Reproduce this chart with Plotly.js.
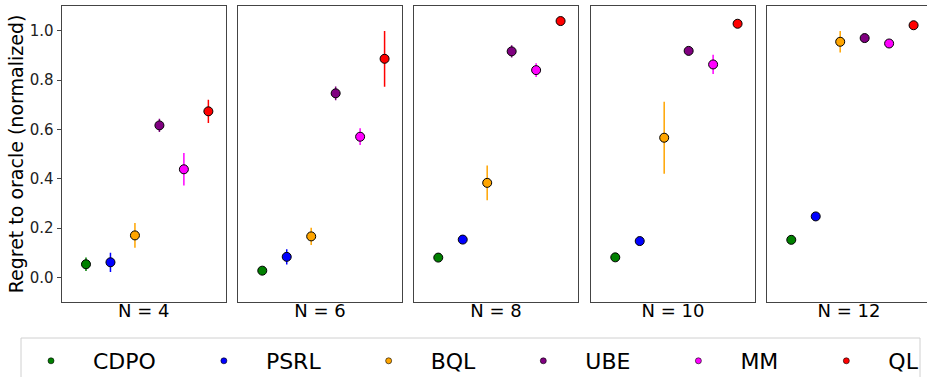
<!DOCTYPE html>
<html>
<head>
<meta charset="utf-8">
<script src="https://cdn.plot.ly/plotly-3.0.1.min.js"></script>
<style>
html,body{margin:0;padding:0;overflow:hidden;background:#fff;}
#chart{width:931px;height:377px;}
</style>
</head>
<body>
<div id="chart"></div>
<script>
const methods = ['CDPO', 'PSRL', 'BQL', 'UBE', 'MM', 'QL'];
const colors = ['#008000', '#0000ff', '#ffa500', '#800080', '#ff00ff', '#ff0000'];
const panelLabels = ['N = 4', 'N = 6', 'N = 8', 'N = 10', 'N = 12'];
const yTickVals = [0.0, 0.2, 0.4, 0.6, 0.8, 1.0];

const cdpoMean = [0.053, 0.027, 0.080, 0.081, 0.152];
const cdpoErr  = [0.027, 0.012, 0.012, 0.010, 0.012];
const psrlMean = [0.061, 0.083, 0.153, 0.147, 0.247];
const psrlErr  = [0.039, 0.031, 0.012, 0.012, 0.012];
const bqlMean  = [0.170, 0.166, 0.383, 0.566, 0.955];
const bqlErr   = [0.050, 0.035, 0.070, 0.146, 0.044];
const ubeMean  = [0.616, 0.746, 0.916, 0.918, 0.970];
const ubeErr   = [0.027, 0.028, 0.025, 0.012, 0.012];
const mmMean   = [0.438, 0.570, 0.840, 0.863, 0.948];
const mmErr    = [0.066, 0.034, 0.028, 0.039, 0.012];
const qlMean   = [0.673, 0.886, 1.039, 1.028, 1.022];
const qlErr    = [0.047, 0.113, 0.010, 0.010, 0.010];

const means = [cdpoMean, psrlMean, bqlMean, ubeMean, mmMean, qlMean];
const errs = [cdpoErr, psrlErr, bqlErr, ubeErr, mmErr, qlErr];

const W = 931, H = 377;
const font = 'DejaVu Sans, sans-serif';
const panelPx = [[62, 225.5], [238.3, 401.7], [414.3, 577.7], [591.3, 754.7], [767.3, 930.7]];
const yDom = [(H - 302) / H, (H - 6) / H];

const traces = [];
panelLabels.forEach((lab, p) => {
  const sfx = p === 0 ? '' : String(p + 1);
  methods.forEach((m, i) => {
    traces.push({
      type: 'scatter', mode: 'markers',
      x: [m], y: [means[i][p]],
      xaxis: 'x' + sfx, yaxis: 'y' + sfx,
      marker: {color: colors[i], size: 9, line: {color: '#000', width: 1}},
      error_y: {type: 'data', array: [errs[i][p]], visible: true, color: colors[i], thickness: 1.5, width: 0},
      showlegend: false, hoverinfo: 'skip'
    });
  });
});
// legend entries
const pad = '\u00a0\u00a0\u00a0';
methods.forEach((m, i) => {
  traces.push({
    type: 'scatter', mode: 'markers', x: [null], y: [null],
    name: m + (i < methods.length - 1 ? pad : ''),
    marker: {color: colors[i], size: 6, line: {color: '#000', width: 0.6}},
    showlegend: true, hoverinfo: 'skip'
  });
});

const layout = {
  width: W, height: H,
  margin: {l: 0, r: 0, t: 0, b: 0, autoexpand: false},
  paper_bgcolor: '#fff', plot_bgcolor: '#fff',
  font: {family: font, color: '#000'},
  showlegend: true,
  legend: {
    orientation: 'h', x: 9 / W, xanchor: 'left', y: (H - 340) / H, yanchor: 'top',
    font: {family: font, size: 22, color: '#000'},
    borderwidth: 0, bgcolor: 'rgba(0,0,0,0)', itemwidth: 74
  },
  shapes: [{
    type: 'rect', xref: 'paper', yref: 'paper',
    x0: 21 / W, x1: 920 / W, y0: -0.05, y1: (H - 338) / H,
    line: {color: '#d0d0d0', width: 1}, fillcolor: 'rgba(0,0,0,0)', layer: 'below'
  }]
};

panelLabels.forEach((lab, p) => {
  const sfx = p === 0 ? '' : String(p + 1);
  layout['xaxis' + sfx] = {
    domain: [panelPx[p][0] / W, panelPx[p][1] / W],
    anchor: 'y' + sfx,
    type: 'category', categoryarray: methods, range: [-0.98, 5.7],
    showticklabels: false, ticks: '', showgrid: false, zeroline: false,
    showline: true, mirror: true, linecolor: '#444', linewidth: 1,
    title: {text: lab, font: {family: font, size: 18, color: '#000'}, standoff: 2},
    fixedrange: true
  };
  layout['yaxis' + sfx] = {
    domain: yDom, anchor: 'x' + sfx,
    range: [-0.1, 1.1],
    tickvals: yTickVals, tickformat: '.1f',
    showticklabels: p === 0, ticks: p === 0 ? 'outside' : '', ticklen: 4.5, tickcolor: '#444',
    tickfont: {family: font, size: 15, color: '#222'},
    showgrid: false, zeroline: false,
    showline: true, mirror: true, linecolor: '#444', linewidth: 1,
    fixedrange: true
  };
});
layout.yaxis.title = {text: 'Regret to oracle (normalized)', font: {family: font, size: 19, color: '#000'}, standoff: 0};

Plotly.newPlot('chart', traces, layout, {displayModeBar: false, staticPlot: true});
</script>
</body>
</html>
